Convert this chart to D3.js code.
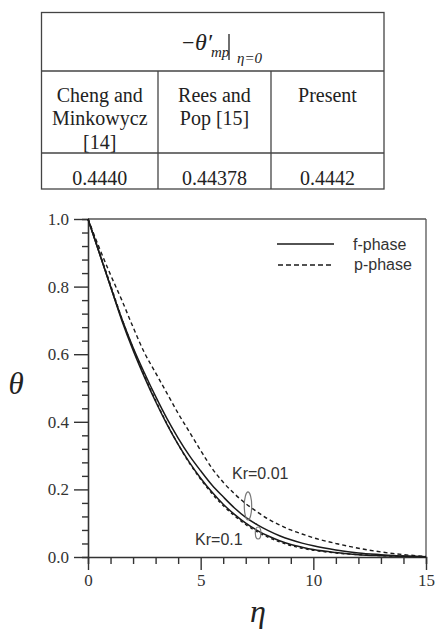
<!DOCTYPE html>
<html><head><meta charset="utf-8">
<script src="https://cdn.jsdelivr.net/npm/d3@7"></script>
</head><body style="margin:0">
<script>
// ---- data ----
const eta = [0,0.5,1,1.5,2,2.5,3,3.5,4,4.5,5,5.5,6,6.5,7,7.5,8,8.5,9,9.5,10,11,12,13,14,15];
const kr001_f = [1.0,0.9,0.8,0.705,0.62,0.545,0.475,0.41,0.352,0.3,0.255,0.213,0.178,0.145,0.117,0.096,0.078,0.063,0.051,0.041,0.033,0.021,0.012,0.007,0.003,0.001];
const kr001_p = [1.0,0.915,0.835,0.76,0.68,0.605,0.545,0.485,0.425,0.37,0.315,0.263,0.221,0.187,0.158,0.134,0.112,0.095,0.08,0.068,0.057,0.04,0.026,0.015,0.007,0.002];
const kr01_f = [1.0,0.9,0.8,0.7,0.612,0.533,0.46,0.393,0.333,0.28,0.233,0.192,0.156,0.126,0.1,0.079,0.062,0.048,0.037,0.029,0.022,0.013,0.007,0.004,0.002,0.0005];
const kr01_p = [1.0,0.903,0.805,0.706,0.617,0.537,0.463,0.395,0.333,0.278,0.23,0.188,0.152,0.122,0.096,0.075,0.058,0.045,0.034,0.026,0.02,0.012,0.007,0.004,0.002,0.0005];
const xTicks = [0,5,10,15];
const yTicks = [0.0,0.2,0.4,0.6,0.8,1.0];
const tableHeads = [["Cheng and","Minkowycz","[14]"],["Rees and","Pop [15]"],["Present"]];
const tableVals = ["0.4440","0.44378","0.4442"];
const legendLabels = ["f-phase","p-phase"];

const SERIF='"Liberation Serif"', SANS='"Liberation Sans"';
const W=437,H=631;
const svg=d3.select("body").append("svg").attr("width",W).attr("height",H).style("font-family",SERIF).style("display","block");
function txt(g,font,size,x0,y0,s){
  return g.append("text").attr("x",x0).attr("y",y0).attr("font-family",font).style("font-family",font).style("font-size",size+"px").attr("fill","#222").text(s);
}

// ---- table ----
const tX=[41.5,158,271,384], tY=[12.5,71,153,189];
const tg=svg.append("g").attr("stroke","#444").attr("stroke-width",1.3).attr("fill","none");
tg.append("rect").attr("x",tX[0]).attr("y",tY[0]).attr("width",tX[3]-tX[0]).attr("height",tY[3]-tY[0]);
tg.append("line").attr("x1",tX[0]).attr("x2",tX[3]).attr("y1",tY[1]).attr("y2",tY[1]);
tg.append("line").attr("x1",tX[0]).attr("x2",tX[3]).attr("y1",tY[2]).attr("y2",tY[2]);
[1,2].forEach(i=>tg.append("line").attr("x1",tX[i]).attr("x2",tX[i]).attr("y1",tY[1]).attr("y2",tY[3]));
// header formula
txt(svg,SERIF,22,182,50,"\u2212");
txt(svg,SERIF,24,195,50,"\u03B8\u2032").style("font-style","italic");
txt(svg,SERIF,15,211,57,"mp").style("font-style","italic");
svg.append("line").attr("x1",229).attr("x2",229).attr("y1",34).attr("y2",60).attr("stroke","#222").attr("stroke-width",1.3);
txt(svg,SERIF,15,237,63,"\u03B7=0").style("font-style","italic");
tableHeads.forEach((lines,i)=>{
  const cx=(tX[i]+tX[i+1])/2;
  lines.forEach((s,j)=>txt(svg,SERIF,20,cx,101.5+j*23.5,s).attr("text-anchor","middle"));
});
tableVals.forEach((s,i)=>txt(svg,SERIF,20,(tX[i]+tX[i+1])/2,185,s).attr("text-anchor","middle"));

// ---- plot ----
const x=d3.scaleLinear().domain([0,15]).range([88,426]);
const y=d3.scaleLinear().domain([0,1]).range([557,219]);
const ax="#333";
svg.append("line").attr("x1",x(0)).attr("x2",x(15)).attr("y1",y(1)).attr("y2",y(1)).attr("stroke","#555").attr("stroke-width",1.3);
svg.append("line").attr("x1",x(15)).attr("x2",x(15)).attr("y1",y(1)).attr("y2",y(0)).attr("stroke","#555").attr("stroke-width",1.3);

const gx=svg.append("g").attr("transform",`translate(0,${y(0)})`);
gx.call(d3.axisBottom(x).tickValues(d3.range(0,16,1)).tickSize(7).tickFormat(""));
gx.call(g=>g.selectAll(".tick").filter(d=>xTicks.includes(d)).select("line").attr("y2",13));
gx.append("g").call(d3.axisBottom(x).tickValues(xTicks).tickSize(0).tickPadding(17).tickFormat(d3.format("d")))
  .call(g=>g.select(".domain").remove());
const gy=svg.append("g").attr("transform",`translate(${x(0)},0)`);
gy.call(d3.axisLeft(y).tickValues(d3.range(0,26).map(i=>i*0.04)).tickSize(6).tickFormat(""));
gy.call(g=>g.selectAll(".tick").filter(d=>yTicks.some(t=>Math.abs(t-d)<1e-6)).select("line").attr("x2",-14));
gy.append("g").call(d3.axisLeft(y).tickValues(yTicks).tickSize(0).tickPadding(19).tickFormat(d3.format(".1f")))
  .call(g=>g.select(".domain").remove());
[gx,gy].forEach(g=>{
  g.attr("font-family",SERIF);
  g.selectAll("g").attr("font-family",SERIF);
  g.selectAll("path.domain").attr("stroke",ax).attr("stroke-width",1.6);
  g.selectAll("line").attr("stroke",ax).attr("stroke-width",1.4);
  g.selectAll("text").attr("font-family",SERIF).style("font-family",SERIF).style("font-size","17px").attr("fill","#333");
});

// axis titles
txt(svg,SERIF,31,16,394,"\u03B8").attr("text-anchor","middle").style("font-style","italic");
txt(svg,SERIF,32,258,622,"\u03B7").attr("text-anchor","middle").style("font-style","italic");

// curves
const line=d3.line().x((d,i)=>x(eta[i])).y(d=>y(d)).curve(d3.curveMonotoneX);
const series=[{v:kr001_f,dash:null},{v:kr01_f,dash:null},{v:kr001_p,dash:"4,3"},{v:kr01_p,dash:"3,3"}];
series.forEach(s=>{
  svg.append("path").attr("d",line(s.v)).attr("fill","none").attr("stroke","#1a1a1a")
    .attr("stroke-width",s.dash?1.4:1.5).attr("stroke-dasharray",s.dash);
});

// legend
svg.append("line").attr("x1",277).attr("x2",334).attr("y1",244).attr("y2",244).attr("stroke","#1a1a1a").attr("stroke-width",1.5);
svg.append("line").attr("x1",278).attr("x2",332).attr("y1",265).attr("y2",265).attr("stroke","#1a1a1a").attr("stroke-width",1.4).attr("stroke-dasharray","5,3");
txt(svg,SANS,16,353,250,legendLabels[0]).attr("fill","#333");
txt(svg,SANS,16,354,270,legendLabels[1]).attr("fill","#333");

// annotations
txt(svg,SANS,16,x(6.39),y(0.231),"Kr=0.01").attr("fill","#333");
txt(svg,SANS,16,x(4.75),y(0.036),"Kr=0.1").attr("fill","#333");
svg.append("ellipse").attr("cx",x(7.1)).attr("cy",y(0.151)).attr("rx",3.7).attr("ry",14).attr("fill","none").attr("stroke","#777").attr("stroke-width",1.2);
svg.append("ellipse").attr("cx",x(7.55)).attr("cy",y(0.071)).attr("rx",2.8).attr("ry",6).attr("fill","none").attr("stroke","#777").attr("stroke-width",1.2);
</script>
</body></html>
